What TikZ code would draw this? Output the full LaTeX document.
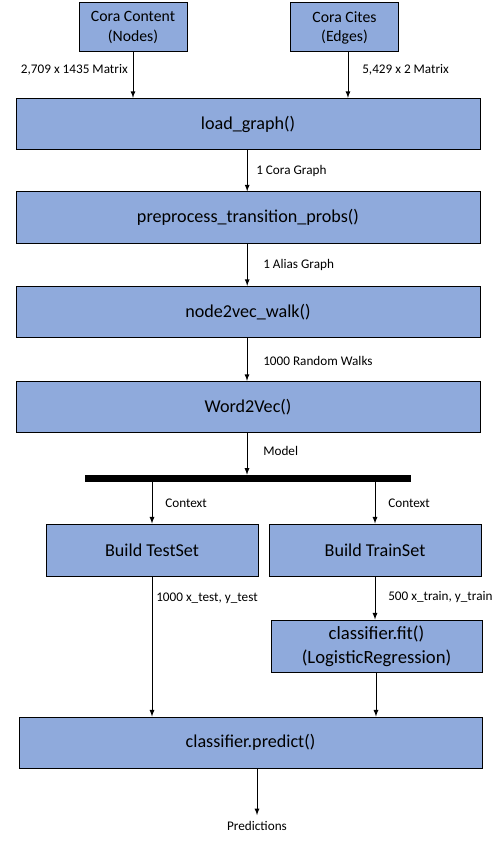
\documentclass[tikz,border=0pt]{standalone}
\usepackage{fontspec}
\setmainfont{Carlito}
\usepackage{tikz}
\usetikzlibrary{calc,shapes, arrows}
\definecolor{boxblue}{RGB}{143,170,220}
\tikzset{
    box/.style={draw=black, fill=boxblue, line width=0.75pt, align=center, inner sep=0pt,
        font=\fontsize{13.6}{16}\selectfont},
    srcbox/.style={box, minimum width=81pt, minimum height=36.75pt,
        font=\fontsize{11.8}{14.3}\selectfont},
    widebox/.style={box, minimum width=348pt, minimum height=38.5pt},
    halfbox/.style={box, minimum width=159pt, minimum height=39pt},
    lbl/.style={inner sep=0pt, font=\fontsize{9.9}{12}\selectfont},
    arr/.style={-latex, line width=0.7pt}
}

\begin{document}
\begin{tikzpicture}[x=0.75pt, y=-0.75pt]
        \useasboundingbox (0,0) rectangle (499,841);
        \node[srcbox] (content) at (133,27.5) {Cora Content\\(Nodes)};
        \node[srcbox] (cites) at (344.5,27.5) {Cora Cites\\(Edges)};
        \node[widebox] (load) at (248,124) {load\_graph()};
        \node[widebox] (prep) at (248,217.5) {preprocess\_transition\_probs()};
        \node[widebox] (walk) at (248,312) {node2vec\_walk()};
        \node[widebox] (wvec) at (248,407) {Word2Vec()};
        \node[fill=black, inner sep=0pt, minimum width=244.5pt, minimum height=5.25pt] (bar) at (248,478.5) {};
        \node[halfbox] (test) at (152,550) {Build TestSet};
        \node[halfbox] (train) at (375,550) {Build TrainSet};
        \node[box, minimum width=158.25pt, minimum height=39pt, font=\fontsize{14}{18}\selectfont]
            (fit) at (376.5,646) {classifier.fit()\\(LogisticRegression)};
        \node[box, minimum width=347.25pt, minimum height=38.25pt] (pred) at (250.5,742.5) {classifier.predict()};
        \node[lbl] (out) at (257,826) {Predictions};

        \draw[arr] (content.south) -- (content.south |- load.north);
        \draw[arr] ([xshift=2.6pt]cites.south) -- ([xshift=2.6pt]cites.south |- load.north);
        \draw[arr] ([xshift=-0.6pt]load.south) -- ([xshift=-0.6pt]prep.north);
        \draw[arr] ([xshift=-0.6pt]prep.south) -- ([xshift=-0.6pt]walk.north);
        \draw[arr] ([xshift=-0.75pt]walk.south) -- ([xshift=-0.75pt]wvec.north);
        \draw[arr] ([xshift=-0.75pt]wvec.south) -- ([xshift=-0.75pt]bar.north);
        \draw[arr] (bar.south -| test.north) -- (test.north);
        \draw[arr] (bar.south -| train.north) -- (train.north);
        \draw[arr] (test.south) -- (test.south |- pred.north);
        \draw[arr] (train.south) -- (train.south |- fit.north);
        \draw[arr] ([xshift=-0.4pt]fit.south) -- ([xshift=-0.4pt]fit.south |- pred.north);
        \draw[arr] (pred.south -| out.north) -- ([yshift=4.5pt]out.north);

        \node[lbl, anchor=east] (l1) at (128,70) {2,709 x 1435 Matrix};
        \node[lbl, anchor=west] (l2) at (362,70) {5,429 x 2 Matrix};
        \node[lbl, anchor=west] (l3) at (256,171) {1 Cora Graph};
        \node[lbl, anchor=west] (l4) at (263,265) {1 Alias Graph};
        \node[lbl, anchor=west] (l5) at (263,361) {1000 Random Walks};
        \node[lbl, anchor=west] (l6) at (263,451) {Model};
        \node[lbl, anchor=west] (l7) at (165,503) {Context};
        \node[lbl, anchor=west] (l8) at (388,503) {Context};
        \node[lbl, anchor=west] (l9) at (156,598) {1000 x\_test, y\_test};
        \node[lbl, anchor=west] (l10) at (388,597) {500 x\_train, y\_train};
    \end{tikzpicture}
\end{document}
